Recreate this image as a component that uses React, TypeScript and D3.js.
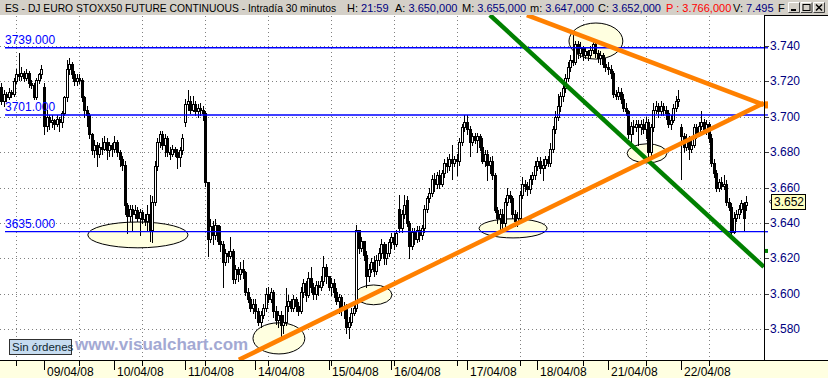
import React from "react";
import * as d3 from "d3";

// ---------- DATA ----------
// bars per day: [open, high, low, close]
const d0804 = [
  [3717,3719,3707,3709],[3709,3715,3706,3713],[3713,3714,3709,3711],[3711,3716,3710,3714],
  [3714,3715,3711,3713],[3713,3722,3712,3720],[3720,3727,3719,3724],[3724,3736,3721,3723],
  [3723,3728,3721,3725],[3725,3726,3720,3722],[3722,3727,3721,3725],[3725,3726,3717,3719],
  [3719,3721,3716,3718],[3718,3719,3710,3711],[3711,3722,3710,3721],[3721,3725,3719,3724],
  [3724,3729,3722,3727],
];
const d0904 = [
  [3717,3719,3690,3695],[3695,3704,3692,3700],[3700,3701,3693,3697],[3697,3701,3694,3698],
  [3698,3699,3693,3696],[3696,3701,3695,3699],[3699,3700,3692,3697],[3697,3703,3694,3702],
  [3702,3712,3701,3711],[3711,3732,3709,3727],[3727,3733,3724,3730],[3730,3731,3722,3724],
  [3724,3726,3718,3720],[3720,3724,3718,3722],[3722,3724,3719,3721],[3721,3722,3709,3711],
  [3711,3712,3700,3704],[3704,3706,3695,3701],[3701,3702,3688,3690],[3690,3691,3679,3681],
  [3681,3687,3677,3684],[3684,3686,3672,3679],[3679,3685,3677,3683],[3683,3688,3679,3682],
  [3682,3689,3681,3686],[3686,3688,3676,3681],[3681,3686,3678,3684],[3684,3685,3678,3682],
];
const d1004 = [
  [3682,3689,3680,3686],[3686,3687,3678,3680],[3680,3681,3672,3676],[3676,3678,3670,3673],
  [3673,3675,3645,3650],[3650,3651,3634,3644],[3644,3650,3641,3648],[3648,3650,3636,3645],
  [3645,3650,3643,3647],[3647,3649,3641,3643],[3643,3648,3633,3646],[3646,3647,3640,3642],
  [3642,3645,3639,3641],[3641,3650,3636,3645],[3645,3656,3630,3636],[3636,3655,3629,3652],
  [3652,3675,3650,3672],[3672,3688,3670,3686],[3686,3692,3683,3690],[3690,3692,3682,3684],
  [3684,3690,3678,3688],[3688,3689,3678,3680],[3680,3683,3676,3679],[3679,3684,3678,3682],
  [3682,3683,3678,3680],[3680,3682,3671,3677],[3677,3683,3672,3681],[3681,3690,3679,3688],
];
const d1104 = [
  [3697,3710,3695,3707],[3707,3715,3704,3709],[3709,3712,3702,3704],[3704,3712,3703,3707],
  [3707,3709,3701,3703],[3703,3707,3700,3705],[3705,3708,3701,3704],[3704,3706,3698,3702],
  [3702,3703,3661,3663],[3663,3663,3621,3631],[3631,3642,3629,3638],[3638,3641,3628,3633],
  [3633,3642,3631,3639],[3639,3639,3628,3630],[3630,3638,3624,3628],[3628,3630,3604,3618],
  [3618,3625,3616,3623],[3623,3624,3618,3621],[3621,3632,3620,3624],[3624,3625,3606,3608],
  [3608,3616,3606,3614],[3614,3615,3607,3611],[3611,3618,3608,3614],[3614,3619,3609,3612],
  [3612,3613,3599,3601],[3601,3603,3595,3597],[3597,3598,3590,3592],[3592,3597,3589,3594],
];
const d1404 = [
  [3594,3597,3586,3590],[3590,3592,3582,3584],[3584,3590,3581,3588],[3588,3594,3586,3592],
  [3592,3603,3590,3600],[3600,3604,3595,3597],[3597,3603,3595,3601],[3601,3602,3587,3590],
  [3590,3593,3583,3585],[3585,3590,3581,3588],[3588,3590,3576,3582],[3582,3588,3578,3584],
  [3584,3603,3582,3593],[3593,3599,3590,3596],[3596,3597,3590,3592],[3592,3599,3590,3597],
  [3597,3598,3590,3593],[3593,3595,3588,3590],[3590,3604,3589,3601],[3601,3608,3598,3606],
  [3606,3607,3596,3599],[3599,3612,3598,3609],[3609,3615,3601,3604],[3604,3606,3597,3600],
  [3600,3607,3597,3605],[3605,3607,3599,3604],[3604,3610,3602,3607],[3607,3621,3605,3615],
  [3615,3617,3606,3610],
];
const d1504 = [
  [3610,3610,3602,3604],[3604,3609,3599,3606],[3606,3608,3598,3601],[3601,3603,3594,3596],
  [3596,3600,3589,3598],[3598,3599,3588,3591],[3591,3595,3586,3593],[3593,3594,3578,3581],
  [3581,3587,3575,3584],[3584,3592,3582,3589],[3589,3595,3588,3592],[3592,3639,3590,3636],
  [3636,3636,3623,3626],[3626,3632,3624,3630],[3630,3630,3619,3622],[3622,3624,3604,3610],
  [3610,3617,3607,3614],[3614,3620,3612,3618],[3618,3621,3610,3613],[3613,3622,3611,3619],
  [3619,3626,3616,3623],[3623,3631,3620,3628],[3628,3629,3617,3620],[3620,3628,3617,3623],
  [3623,3631,3621,3629],
];
const d1604 = [
  [3629,3634,3626,3632],[3632,3634,3625,3628],[3628,3636,3627,3634],[3648,3656,3635,3637],
  [3637,3647,3635,3645],[3645,3656,3643,3650],[3653,3655,3638,3640],[3640,3641,3620,3627],
  [3627,3637,3625,3635],[3635,3637,3628,3631],[3631,3638,3629,3636],[3636,3638,3630,3633],
  [3633,3639,3631,3637],[3637,3650,3635,3648],[3648,3655,3646,3654],[3654,3660,3652,3657],
  [3657,3667,3655,3665],[3665,3668,3658,3662],[3662,3669,3660,3667],[3667,3670,3660,3662],
  [3662,3670,3661,3668],[3668,3676,3666,3674],[3674,3677,3669,3672],[3672,3679,3670,3676],
  [3676,3684,3665,3674],[3674,3678,3672,3676],[3676,3679,3667,3675],[3675,3688,3673,3686],
  [3686,3696,3684,3694],[3694,3701,3692,3697],
];
const d1704 = [
  [3697,3701,3690,3693],[3693,3695,3678,3686],[3686,3691,3684,3689],[3689,3691,3685,3687],
  [3687,3691,3680,3689],[3689,3690,3681,3683],[3683,3688,3674,3675],[3675,3681,3672,3679],
  [3679,3681,3664,3673],[3673,3677,3668,3675],[3675,3678,3665,3667],[3667,3668,3646,3647],
  [3647,3649,3640,3643],[3643,3648,3636,3645],[3645,3648,3635,3640],[3640,3654,3638,3652],
  [3652,3660,3650,3656],[3656,3658,3652,3654],[3654,3655,3643,3645],[3645,3647,3638,3641],
  [3641,3646,3638,3643],[3643,3658,3640,3656],[3656,3666,3654,3662],[3662,3664,3658,3661],
  [3661,3663,3656,3659],[3659,3667,3657,3665],[3665,3669,3662,3667],[3667,3675,3665,3672],
];
const d1804 = [
  [3672,3677,3670,3675],[3675,3677,3668,3671],[3671,3676,3664,3673],[3673,3678,3671,3676],
  [3676,3678,3672,3674],[3674,3685,3672,3682],[3682,3695,3680,3693],[3693,3703,3691,3700],
  [3700,3713,3698,3706],[3706,3714,3703,3712],[3712,3719,3709,3716],[3716,3724,3714,3722],
  [3722,3731,3720,3728],[3728,3735,3726,3732],[3732,3748,3729,3731],[3731,3743,3730,3741],
  [3741,3743,3733,3736],[3736,3742,3734,3739],[3739,3740,3732,3735],[3735,3739,3733,3737],
  [3737,3738,3732,3735],[3735,3740,3733,3738],[3738,3744,3736,3741],[3741,3744,3734,3736],
  [3736,3738,3731,3733],[3733,3737,3730,3735],[3735,3736,3728,3730],[3730,3733,3726,3728],
];
const d2104 = [
  [3728,3731,3724,3727],[3727,3729,3722,3725],[3725,3726,3711,3713],[3713,3715,3710,3712],
  [3712,3717,3710,3714],[3714,3716,3708,3710],[3710,3713,3703,3705],[3705,3708,3701,3703],
  [3703,3704,3688,3690],[3690,3697,3686,3695],[3695,3698,3690,3694],[3694,3698,3692,3696],
  [3696,3698,3684,3694],[3694,3698,3690,3696],[3696,3699,3691,3693],[3693,3700,3688,3697],
  [3697,3699,3677,3680],[3680,3696,3678,3694],[3694,3708,3692,3704],[3704,3709,3702,3706],
  [3706,3708,3700,3703],[3703,3709,3701,3706],[3706,3708,3701,3704],[3704,3706,3699,3702],
  [3702,3704,3694,3696],[3696,3701,3693,3698],[3698,3707,3697,3705],[3705,3712,3703,3709],
  [3709,3715,3706,3710],
];
const d2204 = [
  [3694,3696,3665,3689],[3689,3691,3680,3683],[3683,3690,3681,3688],[3688,3689,3676,3682],
  [3682,3687,3680,3684],[3684,3696,3683,3694],[3694,3696,3688,3690],[3690,3697,3689,3695],
  [3695,3703,3693,3697],[3697,3699,3691,3693],[3693,3698,3690,3696],[3696,3697,3686,3688],
  [3688,3690,3672,3674],[3674,3676,3666,3668],[3668,3670,3658,3660],[3660,3665,3658,3663],
  [3663,3666,3659,3661],[3661,3667,3659,3662],[3662,3664,3650,3652],[3652,3654,3647,3649],
  [3649,3651,3632,3635],[3635,3646,3634,3643],[3643,3647,3641,3645],[3645,3650,3643,3648],
  [3648,3653,3646,3651],[3651,3652,3636,3643],[3650,3655,3647,3652],
];

const days = [d0804, d0904, d1004, d1104, d1404, d1504, d1604, d1704, d1804, d2104, d2204];
const dayLabels = ["", "09/04/08", "10/04/08", "11/04/08", "14/04/08", "15/04/08", "16/04/08", "17/04/08", "18/04/08", "21/04/08", "22/04/08"];

const yTicks = [3580, 3600, 3620, 3640, 3660, 3680, 3700, 3720, 3740];
const levels = [3739, 3701, 3635];

// ellipse annotations: center (bar index, price), radii (bars, price points)
const ellipses = [
  { bar: 54.3, price: 3633.2, rb: 19.9, rp: 7.3 },
  { bar: 110.3, price: 3574.7, rb: 10.3, rp: 8.8 },
  { bar: 147.9, price: 3599.3, rb: 7.3, rp: 5.6 },
  { bar: 203.3, price: 3636.9, rb: 13.5, rp: 5.4 },
  { bar: 236.2, price: 3742.8, rb: 10.7, rp: 10.2 },
  { bar: 256.5, price: 3679.3, rb: 7.9, rp: 5.4 },
];

// trend lines: [bar, price] endpoints
const greenLine = [[194.1, 3757.5], [302.9, 3615.1]];
const orangeUp = [[94.4, 3562.6], [302.9, 3707.8]];
const orangeDown = [[208.8, 3757.5], [302.9, 3706.7]];

const headerTitle = "ES - DJ EURO STOXX50 FUTURE CONTINUOUS - Intradía 30 minutos";
const headerFields = [
  { l: "H:", v: "21:59", x: 347 },
  { l: "A:", v: "3.650,000", x: 395 },
  { l: "M:", v: "3.655,000", x: 462 },
  { l: "m:", v: "3.647,000", x: 530 },
  { l: "C:", v: "3.652,000", x: 598 },
  { l: "", v: "P : 3.766,000", x: 666, red: true },
  { l: "V:", v: "7.495", x: 733 },
  { l: "F", v: "", x: 778 },
];

// ---------- LAYOUT ----------
const W = 828, H = 378;
const PT = 15, PB = 360, PR = 764;
const FONT = "'Liberation Sans', Arial, sans-serif";
const NAVY = "#000080";

export default function App() {
  const bars: { i: number; o: number; h: number; l: number; c: number }[] = [];
  const dayStarts: number[] = [];
  days.forEach((d) => {
    dayStarts.push(bars.length);
    d.forEach(([o, h, l, c]) => bars.push({ i: bars.length, o, h, l, c }));
  });

  const x = d3.scaleLinear().domain([17, 270]).range([44, 681]);
  const y = d3.scaleLinear().domain([3580, 3740]).range([329, 46]);

  const gridBars = d3.range(6, bars.length, 25);
  const lineGen = d3.line<number[]>().x((d) => x(d[0])).y((d) => y(d[1]));
  const last = bars[bars.length - 1];
  const lastI = last.i;
  const valAt = (ln: number[][], i: number) => {
    const t = (i - ln[0][0]) / (ln[1][0] - ln[0][0]);
    return ln[0][1] + t * (ln[1][1] - ln[0][1]);
  };

  return (
    <div>
      <style>{`body{margin:0;}`}</style>
      <svg width={W} height={H} style={{ display: "block" }} fontFamily={FONT}>
        <defs>
          <clipPath id="plot">
            <rect x={0} y={PT} width={PR} height={PB - PT} />
          </clipPath>
        </defs>
        <rect x={0} y={0} width={W} height={H} fill="#ffffff" />

        {/* header */}
        <rect x={0} y={0} width={W} height={PT} fill="#d4d0c8" />
        <text x={5} y={11.5} fill="#000" fontSize={10.3}>
          {headerTitle}
        </text>
        <g fontSize={11}>
          {headerFields.map((f, k) => (
            <text key={k} x={f.x} y={11.5} fill="#000">
              {f.l && <tspan>{f.l}</tspan>}
              {f.v && <tspan fill={f.red ? "#ff0000" : NAVY}>{(f.l ? " " : "") + f.v}</tspan>}
            </text>
          ))}
        </g>
        {["min", "max", "close"].map((b, k) => {
          const bx = 788 + k * 12.5;
          return (
            <g key={b}>
              <rect x={bx} y={2} width={12} height={11} fill="#d4d0c8" />
              <path d={`M${bx + 0.5},${12.5}V${2.5}H${bx + 11.5}`} stroke="#fff" fill="none" />
              <path d={`M${bx + 0.5},${12.5}H${bx + 11.5}V${2.5}`} stroke="#404040" fill="none" />
              {b === "min" && <rect x={bx + 3} y={9} width={5} height={2} fill="#000" />}
              {b === "max" && <rect x={bx + 2.5} y={4.5} width={7} height={6} fill="none" stroke="#000" />}
              {b === "close" && (
                <path d={`M${bx + 3},${4.5}L${bx + 9},${10.5}M${bx + 9},${4.5}L${bx + 3},${10.5}`} stroke="#000" strokeWidth={1.5} />
              )}
            </g>
          );
        })}

        {/* grid */}
        <g stroke="#808080" strokeDasharray="1,3" shapeRendering="crispEdges">
          {gridBars.map((g) => (
            <line key={"v" + g} x1={Math.round(x(g)) + 0.5} x2={Math.round(x(g)) + 0.5} y1={PT + 1} y2={PB} />
          ))}
          {yTicks.map((t) => (
            <line key={"h" + t} x1={0} x2={PR} y1={Math.round(y(t)) + 0.5} y2={Math.round(y(t)) + 0.5} />
          ))}
        </g>

        {/* ellipses */}
        <g fill="#ffffe0" stroke="#000" strokeWidth={1}>
          {ellipses.map((e, k) => (
            <ellipse
              key={k}
              cx={x(e.bar)}
              cy={y(e.price)}
              rx={x(e.bar + e.rb) - x(e.bar)}
              ry={y(e.price - e.rp) - y(e.price)}
            />
          ))}
        </g>

        {/* candles */}
        <g shapeRendering="crispEdges">
          {bars.map((b) => {
            const px = Math.round(x(b.i));
            const top = Math.round(y(Math.max(b.o, b.c)));
            const bot = Math.round(y(Math.min(b.o, b.c)));
            const up = b.c >= b.o;
            return (
              <g key={b.i}>
                <line x1={px + 0.5} x2={px + 0.5} y1={Math.round(y(b.h))} y2={Math.round(y(b.l)) + 1} stroke="#000" />
                {up ? (
                  <rect x={px - 0.5} y={top + 0.5} width={2} height={Math.max(1, bot - top)} fill="#fff" stroke="#000" />
                ) : (
                  <rect x={px - 1} y={top} width={3} height={Math.max(1, bot - top + 1)} fill="#000" />
                )}
              </g>
            );
          })}
        </g>

        {/* horizontal levels */}
        {levels.map((v) => (
          <g key={v}>
            <line x1={5} x2={PR} y1={y(v)} y2={y(v)} stroke="#0000ff" strokeWidth={1.3} />
            <text x={5} y={y(v) - 4} fontSize={12} fill="#0000ff">
              {`${v}.000`}
            </text>
          </g>
        ))}

        {/* trend lines */}
        <g clipPath="url(#plot)" fill="none" strokeWidth={4.5}>
          <path d={lineGen(greenLine) || ""} stroke="#008000" />
          <path d={lineGen(orangeUp) || ""} stroke="#ff8000" />
          <path d={lineGen(orangeDown) || ""} stroke="#ff8000" />
        </g>

        {/* watermark + status */}
        <text x={75} y={350} fontSize={17} fontWeight="bold" fill="#a3a9d3">
          www.visualchart.com
        </text>
        <rect x={9.5} y={339.5} width={62} height={15} fill="#c6dcf0" stroke="#303030" />
        <text x={12} y={351} fontSize={11.5} fill="#102830">
          Sin órdenes
        </text>

        {/* bottom axis */}
        <rect x={0} y={PB} width={W} height={H - PB} fill="#ffffe1" />
        <line x1={0} x2={W} y1={PB + 0.5} y2={PB + 0.5} stroke="#000" />
        <g stroke="#000" shapeRendering="crispEdges">
          {gridBars.map((g) => (
            <line key={g} x1={Math.round(x(g)) + 0.5} x2={Math.round(x(g)) + 0.5} y1={PB} y2={PB + 6} />
          ))}
          {dayStarts.map((s, k) =>
            dayLabels[k] ? (
              <line key={"d" + k} x1={Math.round(x(s)) + 0.5} x2={Math.round(x(s)) + 0.5} y1={PB} y2={PB + 10} />
            ) : null
          )}
        </g>
        <g fontSize={12} fill="#000">
          {dayStarts.map((s, k) =>
            dayLabels[k] ? (
              <text key={k} x={Math.round(x(s)) + 3} y={376}>
                {dayLabels[k]}
              </text>
            ) : null
          )}
        </g>

        {/* right axis */}
        <line x1={PR + 0.5} x2={PR + 0.5} y1={PT} y2={PB} stroke="#000" />
        <line x1={PR} x2={W} y1={PT + 0.5} y2={PT + 0.5} stroke="#000" />
        <g>
          {yTicks.map((t) => (
            <g key={t}>
              <line x1={PR + 1} x2={PR + 5} y1={Math.round(y(t)) + 0.5} y2={Math.round(y(t)) + 0.5} stroke="#404040" />
              <text x={PR + 6} y={y(t) + 4} fontSize={12} fill={NAVY}>
                {(t / 1000).toFixed(3)}
              </text>
            </g>
          ))}
          {levels.map((v) => (
            <line key={v} x1={PR + 1} x2={PR + 4} y1={y(v)} y2={y(v)} stroke="#0000ff" strokeWidth={1.3} />
          ))}
          <path d={`M${PR + 1},${y(valAt(orangeUp, lastI)) - 3}h3v${y(valAt(orangeDown, lastI)) - y(valAt(orangeUp, lastI)) + 6}h-3z`} fill="#ff8000" />
          <rect x={PR + 1} y={y(valAt(greenLine, lastI)) - 2} width={3} height={4} fill="#008000" />
          <path d={`M${PR + 5},${y(last.c)}l3,-2.5M${PR + 5},${y(last.c)}l3,2.5`} stroke="#000" strokeWidth={0.8} fill="none" />
          <rect x={PR + 7.5} y={Math.round(y(last.c)) - 7.5} width={34} height={15} fill="#ffffc0" stroke="#000" />
          <text x={PR + 10} y={y(last.c) + 4.5} fontSize={12} fill="#000">
            {(last.c / 1000).toFixed(3)}
          </text>
        </g>
      </svg>
    </div>
  );
}
